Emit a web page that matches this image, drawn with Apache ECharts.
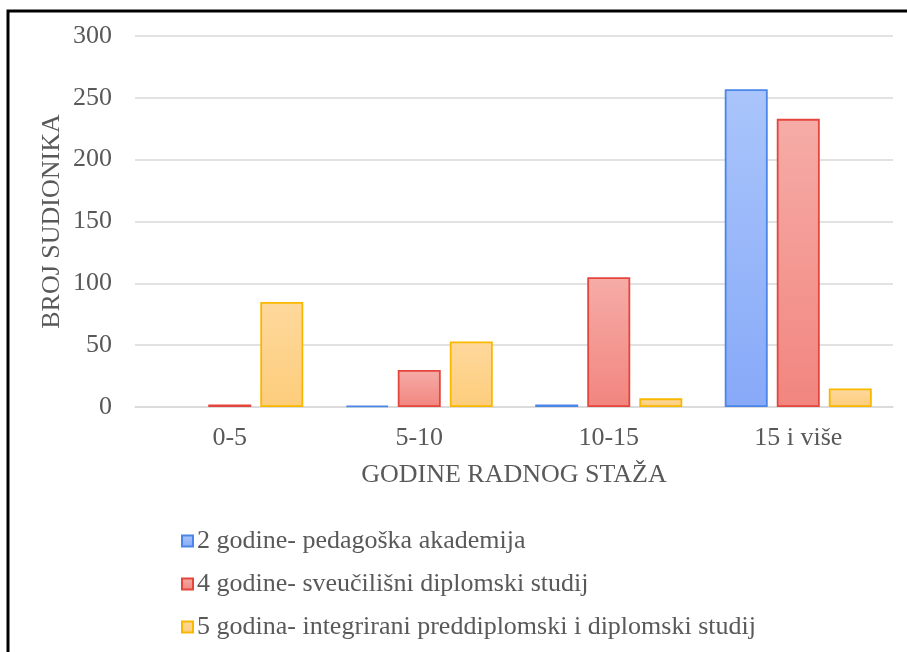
<!DOCTYPE html>
<html>
<head>
<meta charset="utf-8">
<script src="https://cdn.jsdelivr.net/npm/echarts@6/dist/echarts.min.js"></script>
<style>html,body{margin:0;padding:0;background:#fff}#c{width:907px;height:652px}</style>
</head>
<body>
<div id="c"></div>
<script>
const categories = ['0-5', '5-10', '10-15', '15 i više'];
const seriesNames = [
  '2 godine- pedagoška akademija',
  '4 godine- sveučilišni diplomski studij',
  '5 godina- integrirani preddiplomski i diplomski studij'
];
const pedagoska = [0, 1, 2, 257];
const sveucilisni = [2, 30, 105, 233];
const integrirani = [85, 53, 7, 15];
const yTicks = [0, 50, 100, 150, 200, 250, 300];

const font = 'Liberation Serif, Times New Roman, serif';
const grey = '#595959';
function grad(top, bottom) {
  return new echarts.graphic.LinearGradient(0, 0, 0, 1, [
    {offset: 0, color: top}, {offset: 1, color: bottom}
  ]);
}
const styles = [
  {fill: grad('#aac5fb', '#87a9f8'), border: '#4a86e8'},
  {fill: grad('#f6aca7', '#f2857f'), border: '#e3463d'},
  {fill: grad('#fed89c', '#fdcd7b'), border: '#f9b800'}
];
const values = [pedagoska, sveucilisni, integrirani];

const chart = echarts.init(document.getElementById('c'));
chart.setOption({
  animation: false,
  graphic: [
    {type: 'polyline', shape: {points: [[8, 652], [8, 11], [907, 11]]},
     style: {stroke: '#000', lineWidth: 3, fill: null}, z: 100}
  ],
  grid: {left: 135, right: 14, top: 36, bottom: 245, containLabel: false},
  legend: {
    orient: 'vertical', left: 176, top: 523, itemGap: 17,
    itemWidth: 11, itemHeight: 11, icon: 'rect',
    textStyle: {fontFamily: font, fontSize: 26, color: grey, padding: [0, 0, 0, -1]},
    data: seriesNames
  },
  xAxis: {
    type: 'category', data: categories,
    name: 'GODINE RADNOG STAŽA', nameLocation: 'middle', nameGap: 55,
    nameMoveOverlap: false,
    nameTextStyle: {fontFamily: font, fontSize: 26, color: grey},
    axisLine: {lineStyle: {color: '#d9d9d9', width: 1.5}},
    axisTick: {show: false},
    axisLabel: {fontFamily: font, fontSize: 26, color: grey, margin: 18}
  },
  yAxis: {
    type: 'value', min: 0, max: 300, interval: 50,
    name: 'BROJ SUDIONIKA', nameLocation: 'middle', nameGap: 70,
    nameMoveOverlap: false,
    nameTextStyle: {fontFamily: font, fontSize: 26, color: grey},
    axisLine: {show: false}, axisTick: {show: false},
    splitLine: {lineStyle: {color: '#d9d9d9', width: 1.5}},
    axisLabel: {fontFamily: font, fontSize: 26, color: grey, margin: 23,
      formatter: v => yTicks.includes(v) ? String(v) : ''}
  },
  series: values.map((d, i) => ({
    type: 'bar', name: seriesNames[i], data: d.map(v => v === 0 ? '-' : v),
    barWidth: 43, barGap: '21%',
    itemStyle: {color: styles[i].fill, borderColor: styles[i].border, borderWidth: 1.8}
  }))
});
</script>
</body>
</html>
